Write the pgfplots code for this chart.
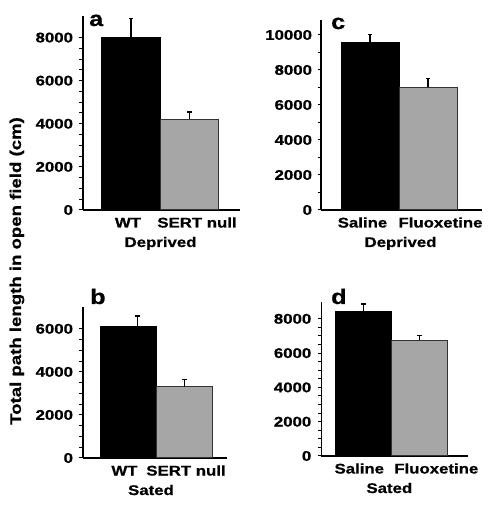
\documentclass[border=0pt]{standalone}
\usepackage{fontspec}
\setmainfont{Liberation Sans}[FakeStretch=1.2, BoldFeatures={FakeBold=0.8}]
\usepackage{pgfplots}
\pgfplotsset{compat=1.18}
\definecolor{bargray}{HTML}{A6A6A6}
\newcommand{\fs}[1]{\fontsize{#1}{#1}\selectfont\bfseries}
\pgfplotsset{
  panel/.style={
    scale only axis,
    axis x line=bottom, axis y line=left,
    axis line style={-, line width=1.3pt},
    xmin=0, ymin=0,
    scaled y ticks=false,
    tick align=outside,
    major tick length=3.5pt, minor tick length=3.5pt,
    every tick/.style={black, line width=1pt},
    xtick style={draw=none},
    /pgf/number format/assume math mode=true,
    /pgf/number format/set thousands separator={},
    ticklabel style={font=\fs{14}},
    yticklabel style={xshift=-3pt},
    xticklabel style={anchor=base, yshift=-14pt, font=\fs{14}},
    xlabel style={anchor=base, font=\fs{14}},
    clip=false,
  },
  blackbar/.style={ybar, bar shift=0pt, fill=black, draw=black, line width=0.8pt},
  graybar/.style={ybar, bar shift=0pt, fill=bargray, draw=black!80, line width=1pt},
  errs/.style={forget plot, draw=none, mark=none,
    error bars/.cd, y dir=plus, y explicit,
    error bar style={draw=black, line width=1.5pt},
    error mark=|,
    error mark options={draw=black, line width=1.3pt, mark size=2.4pt}},
}
\begin{document}
\begin{tikzpicture}
\useasboundingbox (0,0) rectangle (488pt,506pt);
% panel a
\begin{axis}[panel, at={(83pt,296pt)}, anchor=south west,
  width=157pt, height=194pt, xmax=157, ymax=9000,
  ytick={0,2000,4000,6000,8000}, minor y tick num=3,
  xtick={45,114}, xticklabels={WT,SERT null},
  xlabel={Deprived},
  xlabel style={at={(axis description cs:0.494,0)}, yshift=-37pt}]
\addplot[blackbar, bar width=58.5pt] coordinates {(48,8000)};
\addplot[graybar, bar width=58.5pt] coordinates {(106.5,4200)};
\addplot[errs] coordinates {(48,8000) +- (0,900) (106.5,4200) +- (0,350)};
\end{axis}
% panel c
\begin{axis}[panel, at={(321pt,296pt)}, anchor=south west,
  width=161pt, height=190pt, xmax=161, ymax=10857,
  ytick={0,2000,4000,6000,8000,10000}, minor y tick num=1,
  yticklabel style={xshift=1pt},
  xtick={41.5,119.5}, xticklabels={Saline,Fluoxetine},
  xlabel={Deprived},
  xlabel style={at={(axis description cs:0.494,0)}, yshift=-37pt}]
\addplot[blackbar, bar width=58pt] coordinates {(49,9600)};
\addplot[graybar, bar width=58pt] coordinates {(107,7000)};
\addplot[errs] coordinates {(49,9600) +- (0,420) (107,7000) +- (0,500)};
\end{axis}
% panel b
\begin{axis}[panel, at={(83pt,48pt)}, anchor=south west,
  width=144pt, height=150.7pt, xmax=144, ymax=7000,
  ytick={0,2000,4000,6000}, minor y tick num=3,
  xtick={41.5,103}, xticklabels={WT,SERT null},
  xlabel={Sated},
  xlabel style={at={(axis description cs:0.472,0)}, yshift=-37pt}]
\addplot[blackbar, bar width=56pt] coordinates {(45,6100)};
\addplot[graybar, bar width=56pt] coordinates {(101,3300)};
\addplot[errs] coordinates {(54.3,6100) +- (0,500) (101.3,3300) +- (0,350)};
\end{axis}
% panel d
\begin{axis}[panel, at={(321.3pt,50pt)}, anchor=south west,
  width=147pt, height=154.3pt, xmax=147, ymax=9000,
  ytick={0,2000,4000,6000,8000}, minor y tick num=3,
  xtick={38,115}, xticklabels={Saline,Fluoxetine},
  xlabel={Sated},
  xlabel style={at={(axis description cs:0.463,0)}, yshift=-37pt}]
\addplot[blackbar, bar width=56pt] coordinates {(42,8450)};
\addplot[graybar, bar width=56pt] coordinates {(98,6750)};
\addplot[errs] coordinates {(42.4,8450) +- (0,420) (98,6750) +- (0,280)};
\end{axis}
\node[rotate=90, font=\fs{15.5}, anchor=center] at (17pt,235pt) {Total path length in open field (cm)};
\node[font=\fs{21}, anchor=base west, inner sep=0pt] at (89pt,480pt) {a};
\node[font=\fs{21}, anchor=base west, inner sep=0pt] at (331pt,477pt) {c};
\node[font=\fs{21}, anchor=base west, inner sep=0pt] at (90pt,202pt) {b};
\node[font=\fs{21}, anchor=base west, inner sep=0pt] at (331pt,202pt) {d};
\end{tikzpicture}
\end{document}
